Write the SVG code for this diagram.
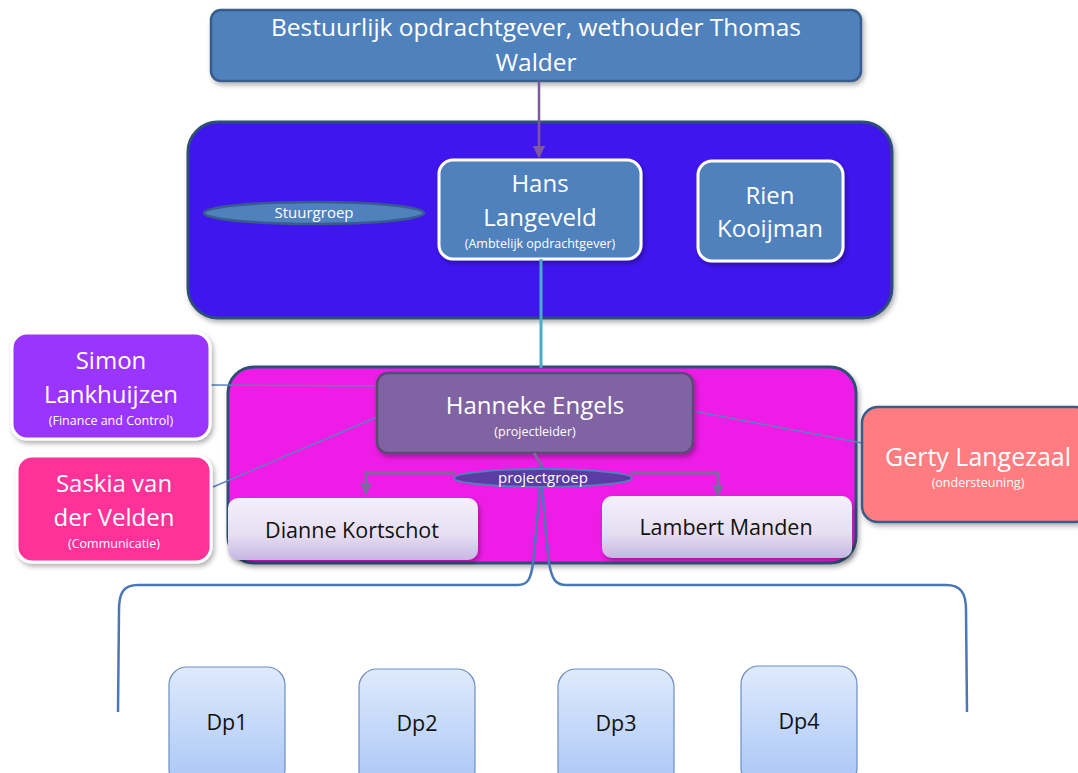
<svg xmlns="http://www.w3.org/2000/svg" width="1078" height="773" viewBox="0 0 1078 773">
<style>
text{font-family:"Open Sans","Noto Sans","Liberation Sans",sans-serif;text-anchor:middle}
.w{fill:#ffffff}
.k{fill:#111111}
.big{font-size:24px}
.sm{font-size:12.5px}
.lbl{font-size:15px}
.mid{font-size:21.5px}
.node{fill:#4f81bd;stroke:#ffffff;stroke-width:3}
.thin{fill:none;stroke:#5a82c0;stroke-width:1.5}
.br{fill:none;stroke:#4a78b4;stroke-width:2.5}
.elb{fill:none;stroke:#7d68a2;stroke-width:3}
</style>
<defs>
<filter id="sh" x="-10%" y="-10%" width="125%" height="130%">
<feDropShadow dx="2" dy="3" stdDeviation="2.5" flood-color="#000" flood-opacity="0.3"/>
</filter>
<linearGradient id="gl" x1="0" y1="0" x2="0" y2="1">
<stop offset="0" stop-color="#f4f0fa"/>
<stop offset="0.6" stop-color="#e6def2"/>
<stop offset="1" stop-color="#c6b6e2"/>
</linearGradient>
<linearGradient id="gb" x1="0" y1="0" x2="0" y2="1">
<stop offset="0" stop-color="#dfeafc"/>
<stop offset="1" stop-color="#a9c6f6"/>
</linearGradient>
<marker id="ap" viewBox="0 0 10 10" refX="9" refY="5" markerWidth="4" markerHeight="4" orient="auto" markerUnits="strokeWidth">
<path d="M0,0 L10,5 L0,10 z" fill="#7d68a2"/>
</marker>
<marker id="at" viewBox="0 0 10 10" refX="9" refY="5" markerWidth="5" markerHeight="5" orient="auto" markerUnits="strokeWidth">
<path d="M0,0 L10,5 L0,10 z" fill="#7e5a9c"/>
</marker>
</defs>

<g id="bestuurlijk">
<rect x="211" y="10" width="650" height="71" rx="10" fill="#4f81bd" stroke="#385d8a" stroke-width="2.5" filter="url(#sh)"/>
<text class="w" x="536" y="36" font-size="24.5">Bestuurlijk opdrachtgever, wethouder Thomas</text>
<text class="w" x="536" y="71" font-size="24.5">Walder</text>
</g>

<g id="stuurgroep">
<rect x="188" y="122" width="704" height="196" rx="30" fill="#3f13ef" stroke="#2d5075" stroke-width="3" filter="url(#sh)"/>
<ellipse cx="314" cy="213" rx="110" ry="11" fill="#4f81bd" stroke="#385d8a" stroke-width="2.5"/>
<text class="w lbl" x="314" y="218">Stuurgroep</text>
</g>

<g id="hans">
<rect class="node" x="439" y="160" width="202" height="99" rx="14" filter="url(#sh)"/>
<text class="w big" x="540" y="192">Hans</text>
<text class="w big" x="540" y="226">Langeveld</text>
<text class="w sm" x="540" y="248">(Ambtelijk opdrachtgever)</text>
</g>

<g id="rien">
<rect class="node" x="698" y="161" width="145" height="100" rx="14" filter="url(#sh)"/>
<text class="w big" x="770" y="204">Rien</text>
<text class="w big" x="770" y="237">Kooijman</text>
</g>

<g id="projectgroep">
<rect x="228" y="367" width="628" height="196" rx="26" fill="#ee1fe6" stroke="#2d5075" stroke-width="3" filter="url(#sh)"/>
</g>

<g id="connectors">
<line x1="539" y1="81" x2="539" y2="157" stroke="#7e5a9c" stroke-width="2.5" marker-end="url(#at)"/>
<line x1="541" y1="259" x2="541" y2="368" stroke="#4bacc6" stroke-width="3"/>
<line class="thin" x1="210" y1="385" x2="405" y2="386"/>
<line class="thin" x1="213" y1="487" x2="408" y2="404"/>
<line class="thin" x1="677" y1="408" x2="862" y2="443"/>
</g>

<g id="hanneke">
<rect x="377" y="373" width="316" height="80" rx="11" fill="#8064a2" stroke="#5c4776" stroke-width="2.5" filter="url(#sh)"/>
<text class="w big" x="535" y="414">Hanneke Engels</text>
<text class="w sm" x="535" y="436">(projectleider)</text>
</g>

<g id="connectors-inner">
<path class="elb" d="M534,453 L542,466"/>
<path class="elb" d="M456,473 L366,473 L366,494" marker-end="url(#ap)"/>
<path class="elb" d="M630,473 L718,473 L718,496" marker-end="url(#ap)"/>
<path class="br" d="M541,466 C538,520 535,545 533,563 C531,580 527,585 518,585 L138,585 C124,585 119,592 119,610 L118,712"/>
<path class="br" d="M541,466 C544,520 547,545 549,563 C552,580 556,585 566,585 L946,585 C960,585 966,592 966,610 L967,712"/>
</g>

<g id="projectgroep-label">
<ellipse cx="543" cy="478" rx="89" ry="9" fill="#5b3ba4" stroke="#4f81bd" stroke-width="2"/>
<text class="w lbl" x="543" y="483">projectgroep</text>
</g>

<g id="simon">
<rect x="12" y="333" width="198" height="106" rx="15" fill="#9a35fe" stroke="#ffffff" stroke-width="3" filter="url(#sh)"/>
<text class="w big" x="111" y="369">Simon</text>
<text class="w big" x="111" y="403">Lankhuijzen</text>
<text class="w sm" x="111" y="425">(Finance and Control)</text>
</g>

<g id="saskia">
<rect x="17" y="456" width="194" height="106" rx="15" fill="#ff3399" stroke="#ffffff" stroke-width="3" filter="url(#sh)"/>
<text class="w big" x="114" y="492">Saskia van</text>
<text class="w big" x="114" y="526">der Velden</text>
<text class="w sm" x="114" y="548">(Communicatie)</text>
</g>

<g id="gerty">
<rect x="862" y="407" width="230" height="115" rx="16" fill="#ff7c80" stroke="#385d8a" stroke-width="2.5" filter="url(#sh)"/>
<text class="w" x="978" y="466" font-size="25">Gerty Langezaal</text>
<text class="w sm" x="978" y="487">(ondersteuning)</text>
</g>

<g id="dianne">
<rect x="228" y="498" width="250" height="62" rx="10" fill="url(#gl)" filter="url(#sh)"/>
<text class="k mid" x="352" y="538">Dianne Kortschot</text>
</g>

<g id="lambert">
<rect x="602" y="496" width="250" height="62" rx="10" fill="url(#gl)" filter="url(#sh)"/>
<text class="k mid" x="726" y="535">Lambert Manden</text>
</g>

<g id="dp1">
<rect x="169" y="667" width="116" height="120" rx="18" fill="url(#gb)" stroke="#6d8dc2" stroke-width="1.2"/>
<text class="k mid" x="227" y="730">Dp1</text>
</g>
<g id="dp2">
<rect x="359" y="669" width="116" height="120" rx="18" fill="url(#gb)" stroke="#6d8dc2" stroke-width="1.2"/>
<text class="k mid" x="417" y="731">Dp2</text>
</g>
<g id="dp3">
<rect x="558" y="669" width="116" height="120" rx="18" fill="url(#gb)" stroke="#6d8dc2" stroke-width="1.2"/>
<text class="k mid" x="616" y="731">Dp3</text>
</g>
<g id="dp4">
<rect x="741" y="666" width="116" height="120" rx="18" fill="url(#gb)" stroke="#6d8dc2" stroke-width="1.2"/>
<text class="k mid" x="799" y="729">Dp4</text>
</g>
</svg>
